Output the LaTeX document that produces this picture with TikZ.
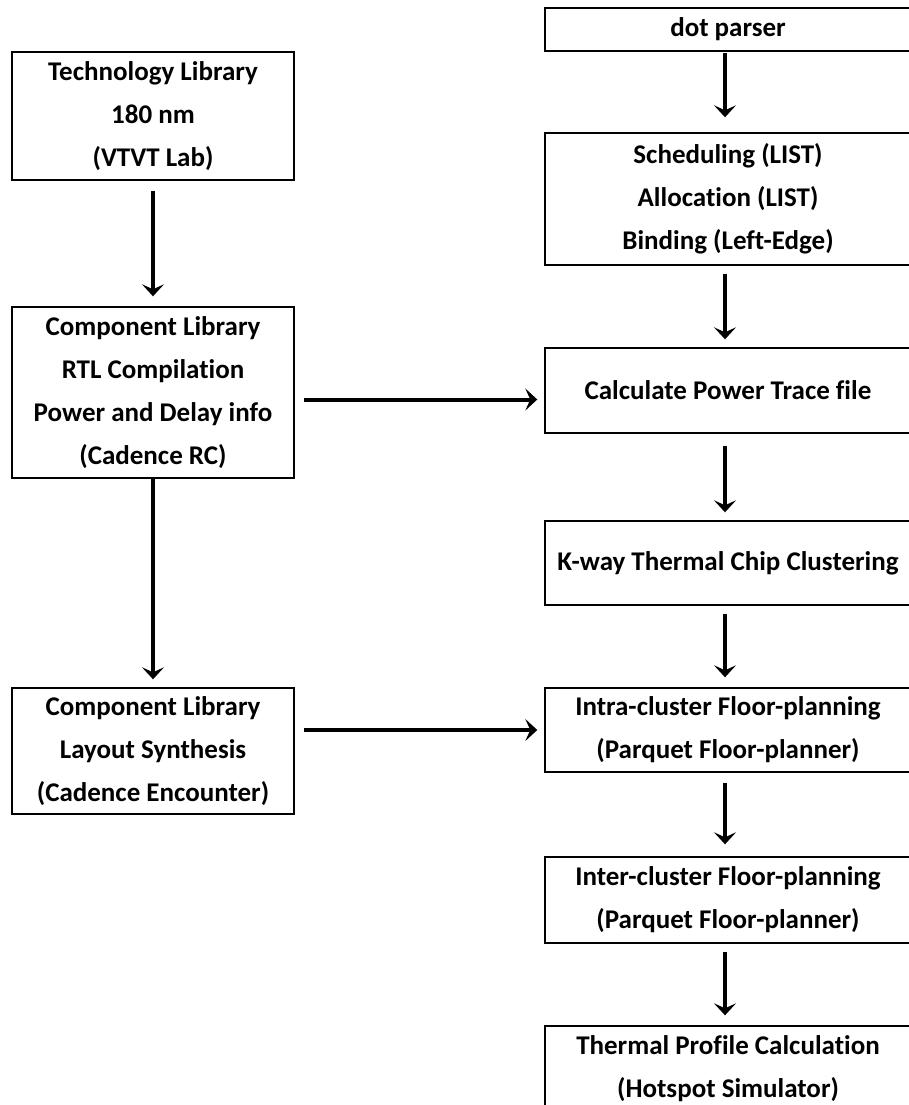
\documentclass[tikz,border=0pt]{standalone}
\usepackage{fontspec}
\setmainfont{Carlito}[Ligatures={NoCommon}]
\usetikzlibrary{arrows.meta}

\begin{document}
\begin{tikzpicture}[x=1pt,y=-1pt,
  box/.style={draw, line width=1.4pt, align=center, inner sep=0pt,
              font=\bfseries\fontsize{27}{43}\selectfont},
  lbox/.style={box, minimum width=282pt},
  rbox/.style={box, minimum width=366pt},
  flow/.style={line width=4pt, -{Stealth[length=12pt,width=22pt,inset=5pt]}}
]
\useasboundingbox (0,0) rectangle (909,1105);
\clip (0,0) rectangle (909,1105);

% left column
\node[lbox, minimum height=128pt] (tech) at (153,116) {Technology Library\\180 nm\\(VTVT Lab)};
\node[lbox, minimum height=171pt] (rtl) at (153,392.5) {Component Library\\RTL Compilation\\Power and Delay info\\(Cadence RC)};
\node[lbox, minimum height=126pt] (lay) at (153,751) {Component Library\\Layout Synthesis\\(Cadence Encounter)};

% right column
\node[rbox, minimum height=43pt] (dot) at (728,29.5) {dot parser};
\node[rbox, minimum height=132pt] (sched) at (728,199) {Scheduling (LIST)\\Allocation (LIST)\\Binding (Left-Edge)};
\node[rbox, minimum height=85pt] (pwr) at (728,390.5) {Calculate Power Trace file};
\node[rbox, minimum height=84pt] (kway) at (728,563) {K-way Thermal Chip Clustering};
\node[rbox, minimum height=84pt] (intra) at (728,730) {Intra-cluster Floor-planning\\(Parquet Floor-planner)};
\node[rbox, minimum height=86pt] (inter) at (728,900) {Inter-cluster Floor-planning\\(Parquet Floor-planner)};
\node[rbox, minimum height=86pt] (therm) at (728,1069) {Thermal Profile Calculation\\(Hotspot Simulator)};

% left column arrows
\draw[flow, shorten <=10pt, shorten >=10pt] (tech.south) -- (rtl.north);
\draw[flow, shorten >=8pt] (rtl.south) -- (lay.north);

% cross arrows
\draw[flow, shorten <=9pt, shorten >=7pt] ([yshift=-7pt]rtl.east) -- ([yshift=-7pt]rtl.east -| pwr.west);
\draw[flow, shorten <=9pt, shorten >=7pt] (lay.east |- intra.west) -- (intra.west);

% right column arrows
\draw[flow, shorten <=1pt, shorten >=15pt] ([xshift=-3pt]dot.south) -- ([xshift=-3pt]sched.north);
\draw[flow, shorten <=8pt, shorten >=8pt] ([xshift=-3pt]sched.south) -- ([xshift=-3pt]pwr.north);
\draw[flow, shorten <=12pt, shorten >=8pt] ([xshift=-3pt]pwr.south) -- ([xshift=-3pt]kway.north);
\draw[flow, shorten <=8pt, shorten >=10pt] ([xshift=-3pt]kway.south) -- ([xshift=-3pt]intra.north);
\draw[flow, shorten <=10pt, shorten >=12pt] ([xshift=-3pt]intra.south) -- ([xshift=-3pt]inter.north);
\draw[flow, shorten <=8pt, shorten >=10pt] ([xshift=-3pt]inter.south) -- ([xshift=-3pt]therm.north);
\end{tikzpicture}
\end{document}
